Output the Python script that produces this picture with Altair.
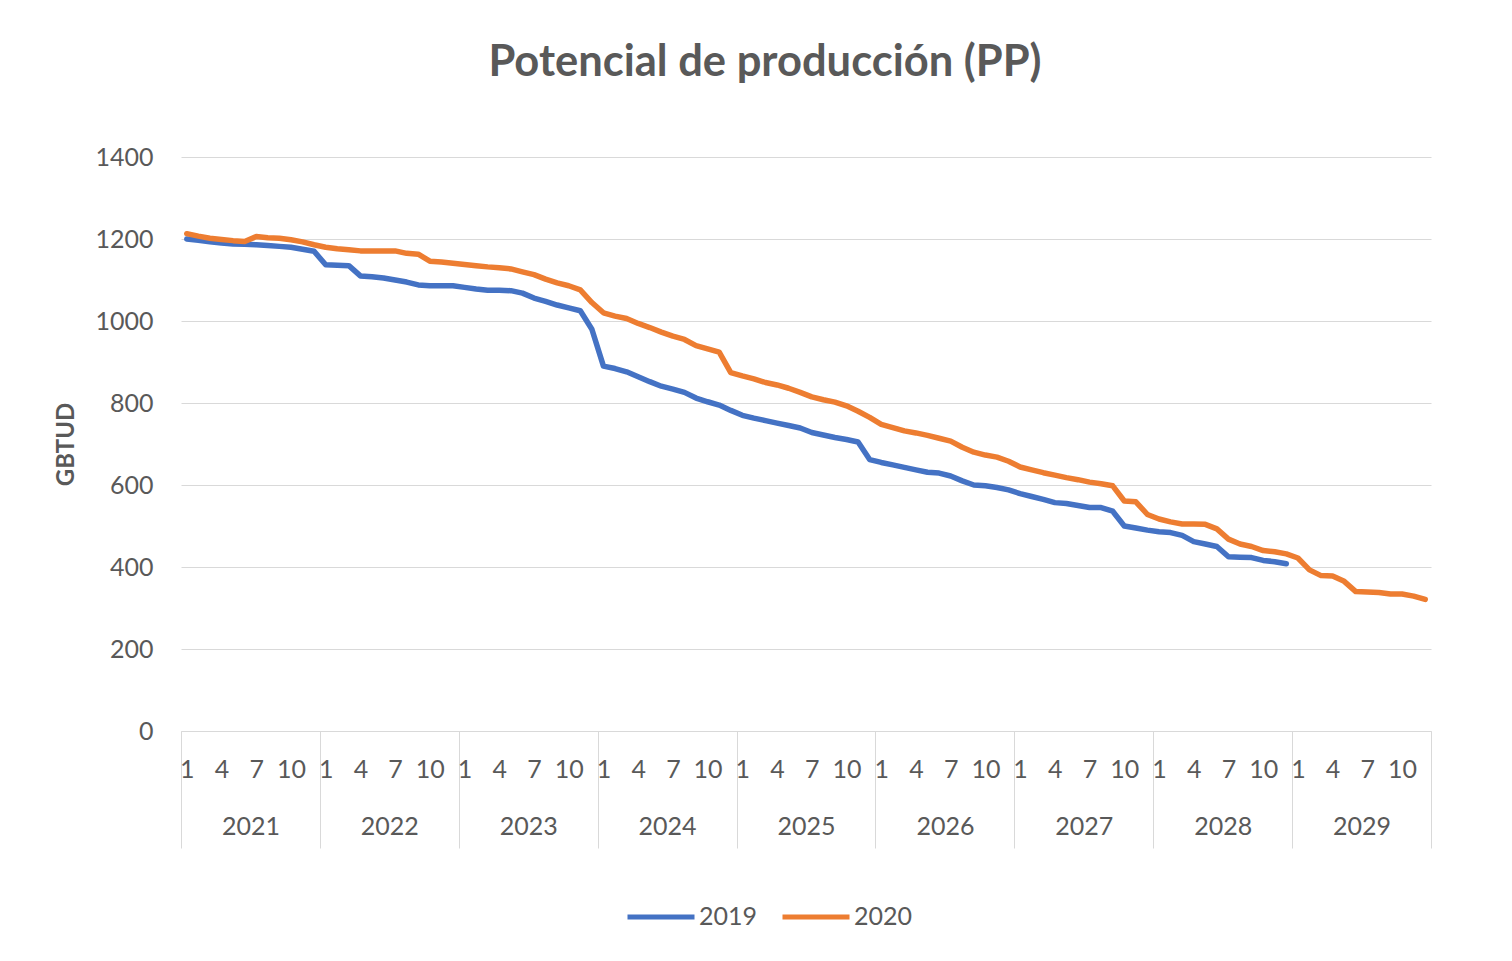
import altair as alt
import pandas as pd

years = [2021, 2022, 2023, 2024, 2025, 2026, 2027, 2028, 2029]
month_ticks = [1, 4, 7, 10]

serie_2019 = [1200, 1197, 1193, 1190, 1188, 1187, 1186, 1184, 1182, 1180, 1175, 1170,
              1137, 1136, 1135, 1110, 1108, 1105, 1100, 1095, 1088, 1086, 1086, 1086,
              1082, 1078, 1075, 1075, 1074, 1068, 1056, 1048, 1039, 1032, 1025, 980,
              890, 884, 876, 864, 852, 841, 834, 826, 812, 803, 795, 782,
              770, 763, 757, 751, 745, 739, 728, 722, 716, 711, 705, 662,
              655, 649, 643, 637, 631, 629, 622, 610, 600, 598, 594, 588,
              579, 572, 565, 557, 555, 550, 545, 545, 536, 500, 495, 490,
              486, 484, 477, 462, 456, 450, 425, 424, 423, 416, 413, 408]

serie_2020 = [1213, 1207, 1202, 1199, 1196, 1194, 1206, 1203, 1202, 1198, 1193, 1186,
              1180, 1176, 1174, 1171, 1171, 1171, 1171, 1165, 1163, 1146, 1144, 1141,
              1138, 1135, 1132, 1130, 1127, 1120, 1113, 1102, 1093, 1086, 1076, 1045,
              1020, 1012, 1006, 994, 984, 973, 963, 955, 940, 932, 924, 874,
              866, 859, 850, 844, 836, 826, 815, 808, 802, 793, 780, 765,
              748, 740, 732, 727, 721, 714, 707, 692, 680, 673, 668, 658,
              644, 637, 630, 624, 618, 613, 607, 603, 598, 561, 559, 528,
              517, 510, 505, 505, 504, 493, 468, 456, 450, 440, 437, 432,
              422, 393, 379, 378, 365, 340, 339, 338, 334, 334, 329, 321]

series_names = ["2019", "2020"]
series_colors = ["#4472C4", "#ED7D31"]

rows = []
for name, vals in zip(series_names, [serie_2019, serie_2020]):
    for i, v in enumerate(vals):
        rows.append({"t": i + 0.5, "serie": name, "valor": v})
df = pd.DataFrame(rows)

n_months = len(years) * 12
FONT = "Lato"
GRAY = "#595959"
LINE = "#d9d9d9"

xscale = alt.Scale(domain=[0, n_months], nice=False, zero=False)

lines = alt.Chart(df).mark_line(strokeWidth=5.5, strokeJoin="round", strokeCap="round").encode(
    x=alt.X("t:Q", scale=xscale,
            axis=alt.Axis(values=[12 * k for k in range(len(years) + 1)], labels=False,
                          tickSize=117, tickColor=LINE, tickWidth=1,
                          domainColor=LINE, domainWidth=1, grid=False, title=None)),
    y=alt.Y("valor:Q", scale=alt.Scale(domain=[0, 1400], nice=False),
            axis=alt.Axis(values=list(range(0, 1401, 200)), format="d", grid=True, gridColor=LINE,
                          domain=False, ticks=False, labelPadding=28,
                          labelFont=FONT, labelFontSize=25, labelColor=GRAY,
                          title="GBTUD", titleFont=FONT, titleFontSize=24,
                          titleFontWeight="bold", titleColor=GRAY, titlePadding=16)),
    color=alt.Color("serie:N", scale=alt.Scale(domain=series_names, range=series_colors),
                    legend=alt.Legend(title=None, orient="none", legendX=444, legendY=724,
                                      direction="horizontal", symbolType="stroke",
                                      symbolSize=4489, symbolStrokeWidth=5,
                                      labelFont=FONT, labelFontSize=25, labelColor=GRAY,
                                      labelOffset=2, columnPadding=14)),
)

month_df = pd.DataFrame({"t": [12 * k + m - 0.5 for k in range(len(years)) for m in month_ticks]})
month_layer = alt.Chart(month_df).mark_point(opacity=0).encode(
    x=alt.X("t:Q", scale=xscale,
            axis=alt.Axis(values=month_df["t"].tolist(), orient="bottom",
                          labelExpr="((round(datum.value + 0.5) - 1) % 12) + 1",
                          ticks=False, domain=False, grid=False, title=None,
                          labelPadding=26, labelFont=FONT, labelFontSize=25,
                          labelColor=GRAY, labelOverlap=False, labelFlush=False)),
)

year_df = pd.DataFrame({"t": [12 * k + 6 for k in range(len(years))]})
year_layer = alt.Chart(year_df).mark_point(opacity=0).encode(
    x=alt.X("t:Q", scale=xscale,
            axis=alt.Axis(values=year_df["t"].tolist(), orient="bottom",
                          labelExpr="'' + (2021 + floor(datum.value / 12))",
                          ticks=False, domain=False, grid=False, title=None,
                          labelPadding=83, labelFont=FONT, labelFontSize=25,
                          labelColor=GRAY, labelOverlap=False, labelFlush=False)),
)

chart = alt.layer(lines, month_layer, year_layer).resolve_scale(x="independent").properties(
    width=1250, height=574,
    title=alt.Title("Potencial de producción (PP)", font=FONT, fontSize=43.5,
                    fontWeight="bold", color=GRAY, anchor="middle", dx=-41, offset=60),
    autosize=alt.AutoSizeParams(type="none"),
    padding={"left": 173, "top": 149, "right": 60, "bottom": 230},
    background="white",
).configure_view(strokeWidth=0)

chart.save("out.html", embed_options={"renderer": "svg", "actions": False})
